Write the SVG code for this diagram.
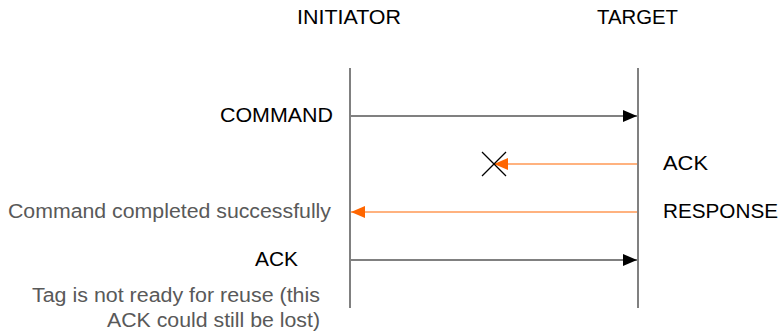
<svg xmlns="http://www.w3.org/2000/svg" width="782" height="334" viewBox="0 0 782 334">
  <style>
    text { font-family: "Liberation Sans", Arial, sans-serif; font-size: 19.5px; }
    .lbl { fill: #000000; }
    .note { fill: #595959; }
    .life { stroke: #808080; stroke-width: 2; fill: none; }
    .msg { stroke: #808080; stroke-width: 2; fill: none; }
    .resp { stroke: #FFB27F; stroke-width: 2; fill: none; }
    .cross { stroke: #000000; stroke-width: 1.2; fill: none; }
  </style>
  <defs>
    <marker id="headBlack" viewBox="0 0 14 12" refX="14" refY="6" markerWidth="14" markerHeight="12" markerUnits="userSpaceOnUse" orient="auto">
      <path d="M0,0 L14,6 L0,12 Z" fill="#000000"/>
    </marker>
    <marker id="headOrange" viewBox="0 0 14 12" refX="14" refY="6" markerWidth="14" markerHeight="12" markerUnits="userSpaceOnUse" orient="auto">
      <path d="M0,0 L14,6 L0,12 Z" fill="#FF6600"/>
    </marker>
  </defs>

  <g id="initiator">
    <text class="lbl" x="349" y="24" text-anchor="middle" textLength="104" lengthAdjust="spacingAndGlyphs">INITIATOR</text>
    <line class="life" x1="350" y1="68" x2="350" y2="308"/>
  </g>

  <g id="target">
    <text class="lbl" x="637.5" y="24" text-anchor="middle" textLength="81" lengthAdjust="spacingAndGlyphs">TARGET</text>
    <line class="life" x1="638" y1="68" x2="638" y2="308"/>
  </g>

  <g id="connectors">
    <!-- COMMAND: initiator to target -->
    <line class="msg" x1="351" y1="116" x2="637" y2="116" marker-end="url(#headBlack)"/>
    <!-- ACK from target, lost on the way -->
    <line class="resp" x1="637" y1="164" x2="494" y2="164" marker-end="url(#headOrange)"/>
    <!-- RESPONSE: target to initiator -->
    <line class="resp" x1="637" y1="212" x2="351" y2="212" marker-end="url(#headOrange)"/>
    <!-- ACK: initiator to target -->
    <line class="msg" x1="351" y1="260" x2="637" y2="260" marker-end="url(#headBlack)"/>
  </g>

  <g id="lost-mark">
    <line class="cross" x1="482" y1="152" x2="506" y2="176"/>
    <line class="cross" x1="506" y1="152" x2="482" y2="176"/>
  </g>

  <g id="labels">
    <text class="lbl" x="333" y="122" text-anchor="end" textLength="113" lengthAdjust="spacingAndGlyphs">COMMAND</text>
    <text class="lbl" x="663" y="170" textLength="45" lengthAdjust="spacingAndGlyphs">ACK</text>
    <text class="lbl" x="663" y="218" textLength="115" lengthAdjust="spacingAndGlyphs">RESPONSE</text>
    <text class="note" x="331" y="218" text-anchor="end" textLength="323" lengthAdjust="spacingAndGlyphs">Command completed successfully</text>
    <text class="lbl" x="298" y="266" text-anchor="end" textLength="43" lengthAdjust="spacingAndGlyphs">ACK</text>
    <text class="note" x="320" y="302" text-anchor="end" textLength="288" lengthAdjust="spacingAndGlyphs">Tag is not ready for reuse (this</text>
    <text class="note" x="320" y="327" text-anchor="end" textLength="213" lengthAdjust="spacingAndGlyphs">ACK could still be lost)</text>
  </g>
</svg>
